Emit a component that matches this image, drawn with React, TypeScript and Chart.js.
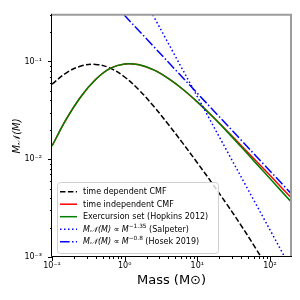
import React, { useEffect, useRef } from 'react';
import { Chart, registerables } from 'chart.js';

Chart.register(...registerables);

// ---- data ----
const massGrid = [0.1, 0.158, 0.251, 0.398, 0.631, 1, 1.585, 2.512, 3.981, 6.31, 10, 15.85, 25.12, 39.81, 63.1, 100];

const tdMass = [...massGrid, 158.5];
const tdCMF = [0.0585, 0.0766, 0.0897, 0.0933, 0.0855, 0.0693, 0.0508, 0.0348, 0.0228, 0.0146, 0.0092, 0.00574, 0.00352, 0.00212, 0.00124, 0.000708, 0.000394];

const tiMass = [...massGrid, 195];
const tiCMF = [0.01365, 0.0258, 0.0438, 0.0653, 0.0849, 0.0944, 0.0925, 0.0819, 0.0671, 0.052, 0.0386, 0.0278, 0.0198, 0.0139, 0.00977, 0.00684, 0.00406];

const exMass = [...massGrid, 195];
const exCMF = [0.01365, 0.0258, 0.0438, 0.0653, 0.0849, 0.0944, 0.0925, 0.0819, 0.0671, 0.052, 0.0386, 0.0278, 0.0195, 0.01346, 0.00923, 0.00634, 0.00368];

const salpeterMass = [2.44, 160];
const salpeterCMF = [0.3, 0.001];

const hosekMass = [0.98, 195];
const hosekCMF = [0.3, 0.00447];

const xRange = [0.1, 195];
const yRange = [0.001, 0.3];

const yTitle = 'M𝒩(M)';
const xTitle = 'Mass (M⊙)';

type Seg = { t: string; italic?: boolean; sup?: boolean };
const legendEntries: { segs: Seg[] }[] = [
  { segs: [{ t: 'time dependent CMF' }] },
  { segs: [{ t: 'time independent CMF' }] },
  { segs: [{ t: 'Exercursion set (Hopkins 2012)' }] },
  { segs: [{ t: 'M𝒩(M) ∝ M', italic: true }, { t: '−1.35', sup: true }, { t: ' (Salpeter)' }] },
  { segs: [{ t: 'M𝒩(M) ∝ M', italic: true }, { t: '−0.8', sup: true }, { t: ' (Hosek 2019)' }] },
];

const FONT = "'DejaVu Sans', sans-serif";

const supMap: Record<string, string> = {
  '-': '⁻', '0': '⁰', '1': '¹', '2': '²', '3': '³', '4': '⁴', '5': '⁵', '6': '⁶', '7': '⁷', '8': '⁸', '9': '⁹',
};
const pow10Label = (v: number) => {
  const e = Math.log10(v);
  const r = Math.round(e);
  if (Math.abs(e - r) > 1e-6) return '';
  return '10' + String(r).split('').map((c) => supMap[c] || c).join('');
};

const toXY = (xs: number[], ys: number[]) => xs.map((x, i) => ({ x, y: ys[i] }));

const ticksPlugin = {
  id: 'mplTicks',
  afterDraw(chart: any) {
    const { ctx, chartArea: a } = chart;
    ctx.save();
    ctx.strokeStyle = '#000';
    ctx.lineWidth = 1;
    const drawFor = (scale: any, horizontal: boolean) => {
      const min = scale.min, max = scale.max;
      for (let e = Math.floor(Math.log10(min)); e <= Math.ceil(Math.log10(max)); e++) {
        for (let m = 1; m <= 9; m++) {
          const v = m * Math.pow(10, e);
          if (v < min * 0.9999 || v > max * 1.0001) continue;
          const len = m === 1 ? 4 : 2;
          const p = Math.round(scale.getPixelForValue(v)) + 0.5;
          ctx.beginPath();
          if (horizontal) {
            ctx.moveTo(p, a.bottom);
            ctx.lineTo(p, a.bottom + len);
          } else {
            ctx.moveTo(a.left, p);
            ctx.lineTo(a.left - len, p);
          }
          ctx.stroke();
        }
      }
    };
    drawFor(chart.scales.x, true);
    drawFor(chart.scales.y, false);
    // spines
    ctx.strokeStyle = '#9c9c9c';
    ctx.lineWidth = 2;
    ctx.beginPath();
    ctx.moveTo(a.left, a.top);
    ctx.lineTo(a.right, a.top);
    ctx.lineTo(a.right, a.bottom);
    ctx.stroke();
    ctx.strokeStyle = '#000';
    ctx.lineWidth = 1;
    ctx.beginPath();
    ctx.moveTo(Math.round(a.left) - 0.5, a.top - 1);
    ctx.lineTo(Math.round(a.left) - 0.5, Math.round(a.bottom) - 0.5);
    ctx.lineTo(a.right + 1, Math.round(a.bottom) - 0.5);
    ctx.stroke();
    ctx.restore();
  },
};

const legendPlugin = {
  id: 'mplLegend',
  afterDatasetsDraw(chart: any) {
    const { ctx, chartArea: a } = chart;
    const ds = chart.data.datasets;
    const w = 161, h = 71;
    const x0 = a.left + 5, y0 = a.bottom - 4 - h;
    ctx.save();
    ctx.beginPath();
    if (ctx.roundRect) ctx.roundRect(x0 + 0.5, y0 + 0.5, w, h, 3);
    else ctx.rect(x0 + 0.5, y0 + 0.5, w, h);
    ctx.fillStyle = 'rgba(255,255,255,0.8)';
    ctx.fill();
    ctx.strokeStyle = '#d0d0d0';
    ctx.lineWidth = 1;
    ctx.stroke();
    legendEntries.forEach((entry, i) => {
      const d = ds[i];
      const y = y0 + 9.7 + i * 12.5;
      ctx.beginPath();
      ctx.setLineDash(d.borderDash || []);
      ctx.strokeStyle = d.borderColor;
      ctx.lineWidth = d.borderWidth;
      ctx.moveTo(x0 + 3, y);
      ctx.lineTo(x0 + 20, y);
      ctx.stroke();
      ctx.setLineDash([]);
      let x = x0 + 26;
      ctx.fillStyle = '#000';
      ctx.textBaseline = 'middle';
      ctx.textAlign = 'left';
      entry.segs.forEach((s) => {
        const size = s.sup ? 5.8 : 8;
        ctx.font = `${s.italic ? 'italic ' : ''}${size}px ${FONT}`;
        ctx.fillText(s.t, x, s.sup ? y - 3.2 : y + 0.5);
        x += ctx.measureText(s.t).width;
      });
    });
    ctx.restore();
  },
};

export default function App() {
  const ref = useRef<HTMLCanvasElement | null>(null);
  useEffect(() => {
    if (!ref.current) return;
    Chart.defaults.font.family = FONT;
    Chart.defaults.color = '#000';
    const chart = new Chart(ref.current, {
      type: 'line',
      data: {
        datasets: [
          { label: 'time dependent CMF', data: toXY(tdMass, tdCMF), borderColor: '#000000', borderWidth: 1.5, borderDash: [5.5, 2.4], order: 5 },
          { label: 'time independent CMF', data: toXY(tiMass, tiCMF), borderColor: '#ff0000', borderWidth: 1.5, order: 4 },
          { label: 'Exercursion set (Hopkins 2012)', data: toXY(exMass, exCMF), borderColor: '#008000', borderWidth: 1.5, order: 3 },
          { label: 'Salpeter', data: toXY(salpeterMass, salpeterCMF), borderColor: '#0000ff', borderWidth: 1.5, borderDash: [1.5, 2.5], order: 2 },
          { label: 'Hosek 2019', data: toXY(hosekMass, hosekCMF), borderColor: '#0000ff', borderWidth: 1.5, borderDash: [9.6, 2.4, 1.5, 2.4], order: 1 },
        ] as any,
      },
      options: {
        animation: false,
        responsive: false,
        parsing: false as any,
        elements: {
          point: { radius: 0 },
          line: { tension: 0.4, fill: false },
        },
        layout: { padding: { top: 9, right: 9, left: 0, bottom: 0 } },
        plugins: { legend: { display: false }, tooltip: { enabled: false } },
        scales: {
          x: {
            type: 'logarithmic',
            min: xRange[0],
            max: xRange[1],
            grid: { display: false, drawTicks: false, tickLength: 0 },
            border: { display: false },
            ticks: {
              autoSkip: false,
              maxRotation: 0,
              padding: 4,
              font: { size: 8 },
              color: '#000',
              callback: (v: any) => pow10Label(Number(v)),
            },
            title: { display: true, text: xTitle, font: { size: 13 }, padding: { top: 0, bottom: 12 }, color: '#000' },
            afterFit: (s: any) => { s.height = 43; },
          },
          y: {
            type: 'logarithmic',
            min: yRange[0],
            max: yRange[1],
            grid: { display: false, drawTicks: false, tickLength: 0 },
            border: { display: false },
            ticks: {
              autoSkip: false,
              padding: 10,
              font: { size: 8 },
              color: '#000',
              callback: (v: any) => pow10Label(Number(v)),
            },
            title: { display: true, text: yTitle, font: { size: 10, style: 'italic' }, padding: { top: 11, bottom: 0 }, color: '#000' },
            afterFit: (s: any) => { s.width = 52; },
          },
        } as any,
      },
      plugins: [ticksPlugin, legendPlugin],
    });
    return () => chart.destroy();
  }, []);
  return (
    <div style={{ position: 'fixed', left: 0, top: 0, width: 300, height: 300, background: '#fff' }}>
      <canvas ref={ref} width={300} height={300} />
    </div>
  );
}
